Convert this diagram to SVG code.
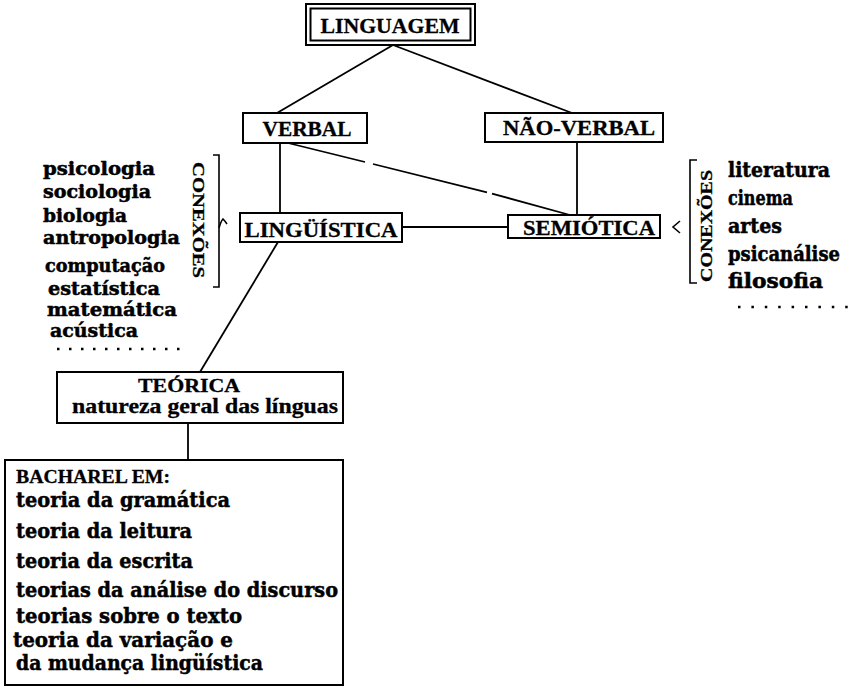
<svg xmlns="http://www.w3.org/2000/svg" width="851" height="688" viewBox="0 0 851 688">
  <style>
    .box { fill: #ffffff; stroke: #000000; stroke-width: 2; }
    .edge { fill: none; stroke: #000000; stroke-width: 1.8; }
    .mark { fill: none; stroke: #000000; stroke-width: 1.6; }
    .dots { fill: none; stroke: #000000; stroke-width: 2.5; }
    .cap { font-family: "Liberation Serif", "Times New Roman", serif; font-weight: bold; fill: #000000; stroke: #000000; stroke-width: 0.3; }
    .low { font-family: "DejaVu Serif", "Liberation Serif", serif; font-weight: bold; fill: #000000; stroke: #000000; stroke-width: 0.5; }
  </style>
  <rect width="851" height="688" fill="#ffffff"/>

  <!-- connectors -->
  <g id="connectors">
    <path class="edge" d="M393 45 L277 113"/>
    <path class="edge" d="M393 45 L572 113"/>
    <path class="edge" d="M280 143 L280 213"/>
    <path class="edge" d="M577 142 L577 215"/>
    <path class="edge" d="M288 143 L365 162 M373 164 L487 192.4 M492 193.6 L570 215"/>
    <path class="edge" d="M402 227 L508 227"/>
    <path class="edge" d="M278 242 L200 372"/>
    <path class="edge" d="M188 423 L188 460"/>
  </g>

  <g id="linguagem">
    <rect class="box" x="306" y="4" width="169" height="41"/>
    <rect class="box" x="310.5" y="8.5" width="160" height="32" fill="none"/>
    <text class="cap" x="390" y="33" font-size="22" text-anchor="middle" textLength="139" lengthAdjust="spacingAndGlyphs">LINGUAGEM</text>
  </g>

  <g id="verbal">
    <rect class="box" x="243" y="113" width="124" height="30"/>
    <text class="cap" x="307" y="136" font-size="20" text-anchor="middle" textLength="89" lengthAdjust="spacingAndGlyphs">VERBAL</text>
  </g>

  <g id="nao-verbal">
    <rect class="box" x="485" y="113" width="178" height="29"/>
    <text class="cap" x="579" y="135" font-size="20" text-anchor="middle" textLength="152" lengthAdjust="spacingAndGlyphs">NÃO-VERBAL</text>
  </g>

  <g id="linguistica">
    <rect class="box" x="240" y="213" width="162" height="29"/>
    <text class="cap" x="321" y="237" font-size="20" text-anchor="middle" textLength="153" lengthAdjust="spacingAndGlyphs">LINGÜÍSTICA</text>
  </g>

  <g id="semiotica">
    <rect class="box" x="508" y="215" width="152" height="23"/>
    <text class="cap" x="589" y="235" font-size="20" text-anchor="middle" textLength="132" lengthAdjust="spacingAndGlyphs">SEMIÓTICA</text>
  </g>

  <!-- connections of linguistics -->
  <g id="conexoes-linguistica">
    <text class="cap" font-size="17" text-anchor="middle" textLength="116" lengthAdjust="spacingAndGlyphs" transform="translate(193 220) rotate(90)">CONEXÕES</text>
    <path class="mark" d="M213 155 L219 155 L219 287 L213 287"/>
    <path class="mark" d="M219 228 Q221 221 223 219 Q225 221 227 224"/>
    <g class="low" font-size="18">
      <text x="43" y="175" textLength="112" lengthAdjust="spacingAndGlyphs">psicologia</text>
      <text x="43" y="198" textLength="108" lengthAdjust="spacingAndGlyphs">sociologia</text>
      <text x="43" y="222" textLength="84" lengthAdjust="spacingAndGlyphs">biologia</text>
      <text x="43" y="244" textLength="137" lengthAdjust="spacingAndGlyphs">antropologia</text>
      <text x="45" y="272" textLength="120" lengthAdjust="spacingAndGlyphs">computação</text>
      <text x="48" y="295" textLength="112" lengthAdjust="spacingAndGlyphs">estatística</text>
      <text x="47" y="316" textLength="130" lengthAdjust="spacingAndGlyphs">matemática</text>
      <text x="50" y="337" textLength="88" lengthAdjust="spacingAndGlyphs">acústica</text>
    </g>
    <path class="dots" stroke-dasharray="2.5 9.5" d="M57 349 L180 349"/>
  </g>

  <!-- connections of semiotics -->
  <g id="conexoes-semiotica">
    <path class="mark" d="M680 221 L673 227 L680 233"/>
    <path class="mark" d="M697 160 L690 160 L690 283 L697 283"/>
    <text class="cap" font-size="17" text-anchor="middle" textLength="112" lengthAdjust="spacingAndGlyphs" transform="translate(712 226) rotate(-90)">CONEXÕES</text>
    <g class="low" font-size="20">
      <text x="728" y="177" textLength="102" lengthAdjust="spacingAndGlyphs">literatura</text>
      <text x="728" y="205" textLength="65" lengthAdjust="spacingAndGlyphs">cinema</text>
      <text x="728" y="233" textLength="54" lengthAdjust="spacingAndGlyphs">artes</text>
      <text x="728" y="261" textLength="112" lengthAdjust="spacingAndGlyphs">psicanálise</text>
      <text x="728" y="288" textLength="95" lengthAdjust="spacingAndGlyphs">filosofia</text>
    </g>
    <path class="dots" stroke-dasharray="2.5 10.9" d="M738 307 L848 307"/>
  </g>

  <g id="teorica">
    <rect class="box" x="57" y="372" width="286" height="51"/>
    <text class="cap" x="189" y="392" font-size="19" text-anchor="middle" textLength="102" lengthAdjust="spacingAndGlyphs">TEÓRICA</text>
    <text class="cap" x="72" y="413" font-size="21" textLength="266" lengthAdjust="spacingAndGlyphs">natureza geral das  línguas</text>
  </g>

  <g id="bacharel">
    <rect class="box" x="5" y="460" width="338" height="225"/>
    <text class="cap" x="16" y="483" font-size="19" textLength="154" lengthAdjust="spacingAndGlyphs">BACHAREL EM:</text>
    <g class="low" font-size="21">
      <text x="16" y="507" textLength="214" lengthAdjust="spacingAndGlyphs">teoria da gramática</text>
      <text x="16" y="538" textLength="176" lengthAdjust="spacingAndGlyphs">teoria da leitura</text>
      <text x="16" y="568" textLength="177" lengthAdjust="spacingAndGlyphs">teoria da escrita</text>
      <text x="16" y="597" textLength="322" lengthAdjust="spacingAndGlyphs">teorias da análise do discurso</text>
      <text x="16" y="623" textLength="226" lengthAdjust="spacingAndGlyphs">teorias sobre o texto</text>
      <text x="13" y="647" textLength="220" lengthAdjust="spacingAndGlyphs">teoria da variação e</text>
      <text x="16" y="670" textLength="247" lengthAdjust="spacingAndGlyphs">da mudança lingüística</text>
    </g>
  </g>
</svg>
